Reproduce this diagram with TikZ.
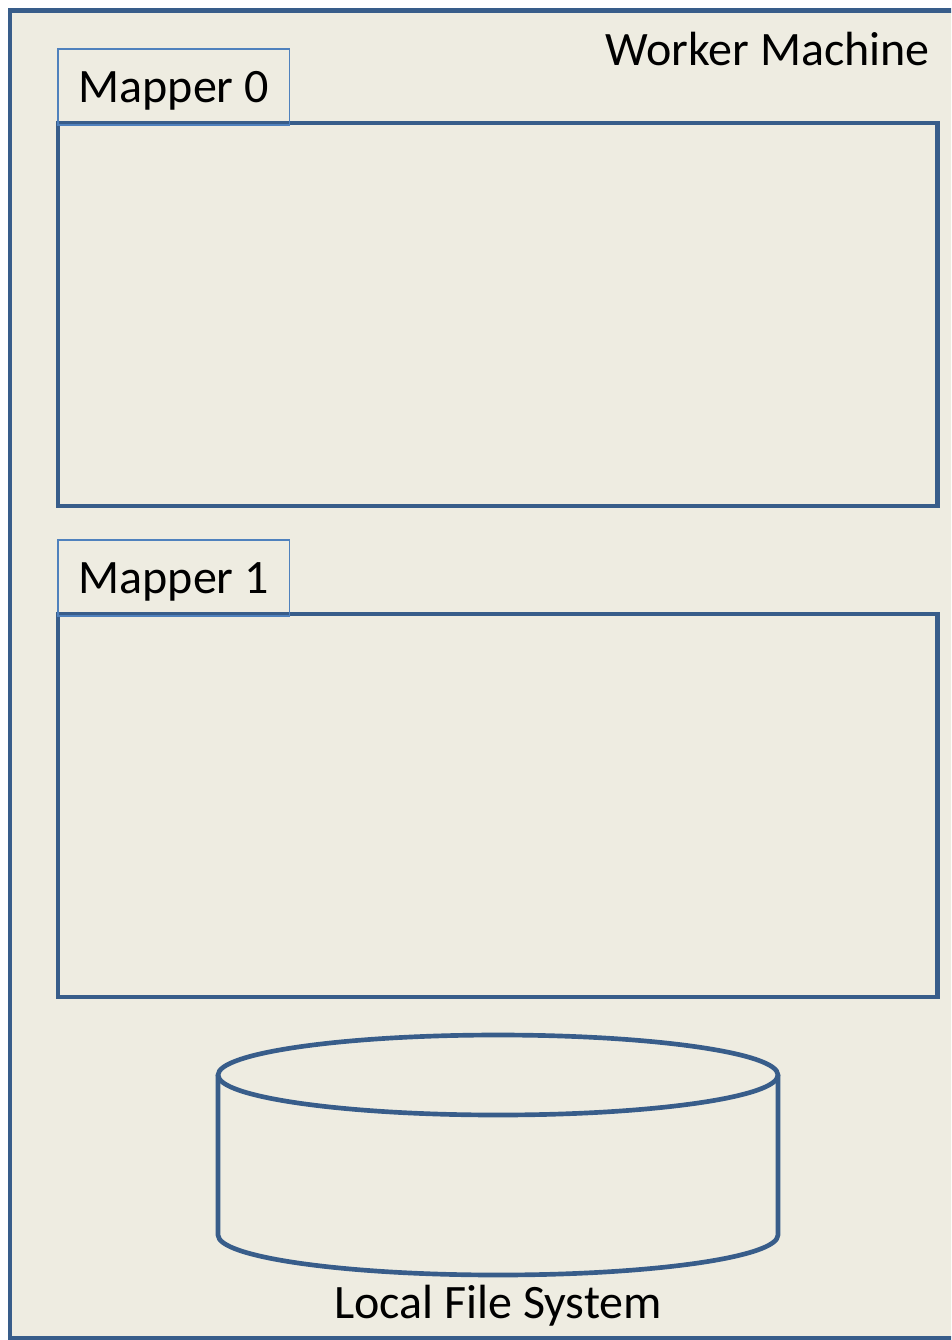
\documentclass[tikz,border=0pt]{standalone}
\usepackage{fontspec}
\setmainfont{Carlito}
\usepackage{xcolor}
\usetikzlibrary{positioning}

\definecolor{frameblue}{HTML}{385D8A}
\definecolor{tabblue}{HTML}{4F81BD}
\definecolor{paper}{HTML}{EEECE1}

\begin{document}
\begin{tikzpicture}[
        x=0.75pt, y=-0.75pt,
        node distance=81pt,
        machine/.style={
            draw=frameblue,
            line width=3.5pt,
            fill=paper
        },
        mapbox/.style={
            draw=frameblue,
            line width=3.5pt,
            anchor=north west,
            outer sep=0pt,
            minimum width=659.6pt,
            minimum height=287.25pt
        },
        maptab/.style={
            draw=tabblue,
            line width=1.4pt,
            outer sep=0pt,
            inner sep=0pt,
            minimum width=173.6pt,
            minimum height=57pt,
            text depth=0pt,
            font=\fontsize{36}{40}\selectfont
        },
        plaintext/.style={
            inner sep=0pt,
            font=\fontsize{36}{40}\selectfont
        },
        disk/.style={draw=frameblue, line width=3.5pt}
    ]
        \useasboundingbox (0,0) rectangle (951,1340);
        \clip (0,0) rectangle (951,1340);

        % Rahmen der Maschine
        \draw[machine] (10,10.5) rectangle (985,1338);
        \node[plaintext, anchor=base east] (wm) at (930,65) {Worker Machine};

        % Mapper-Bereiche mit Reitern
        \node[mapbox] (map0) at (58,123) {};
        \node[maptab, above right=0pt of map0.north west, yshift=-1.5pt] (tab0) {Mapper 0};

        \node[mapbox, below=of map0] (map1) {};
        \node[maptab, above right=0pt of map1.north west, yshift=-1.5pt] (tab1) {Mapper 1};

        % Lokale Platte
        \coordinate (lfs) at (498,1075);
        \draw[disk] (lfs) ellipse [x radius=210pt, y radius=30pt];
        \draw[disk] ([xshift=-210pt]lfs) -- ++(0,160)
            arc[start angle=180, end angle=360, x radius=210pt, y radius=30pt]
            -- ([xshift=210pt]lfs);
        \node[plaintext, anchor=base] (lfsname) at (498,1318) {Local File System};
    \end{tikzpicture}
\end{document}
